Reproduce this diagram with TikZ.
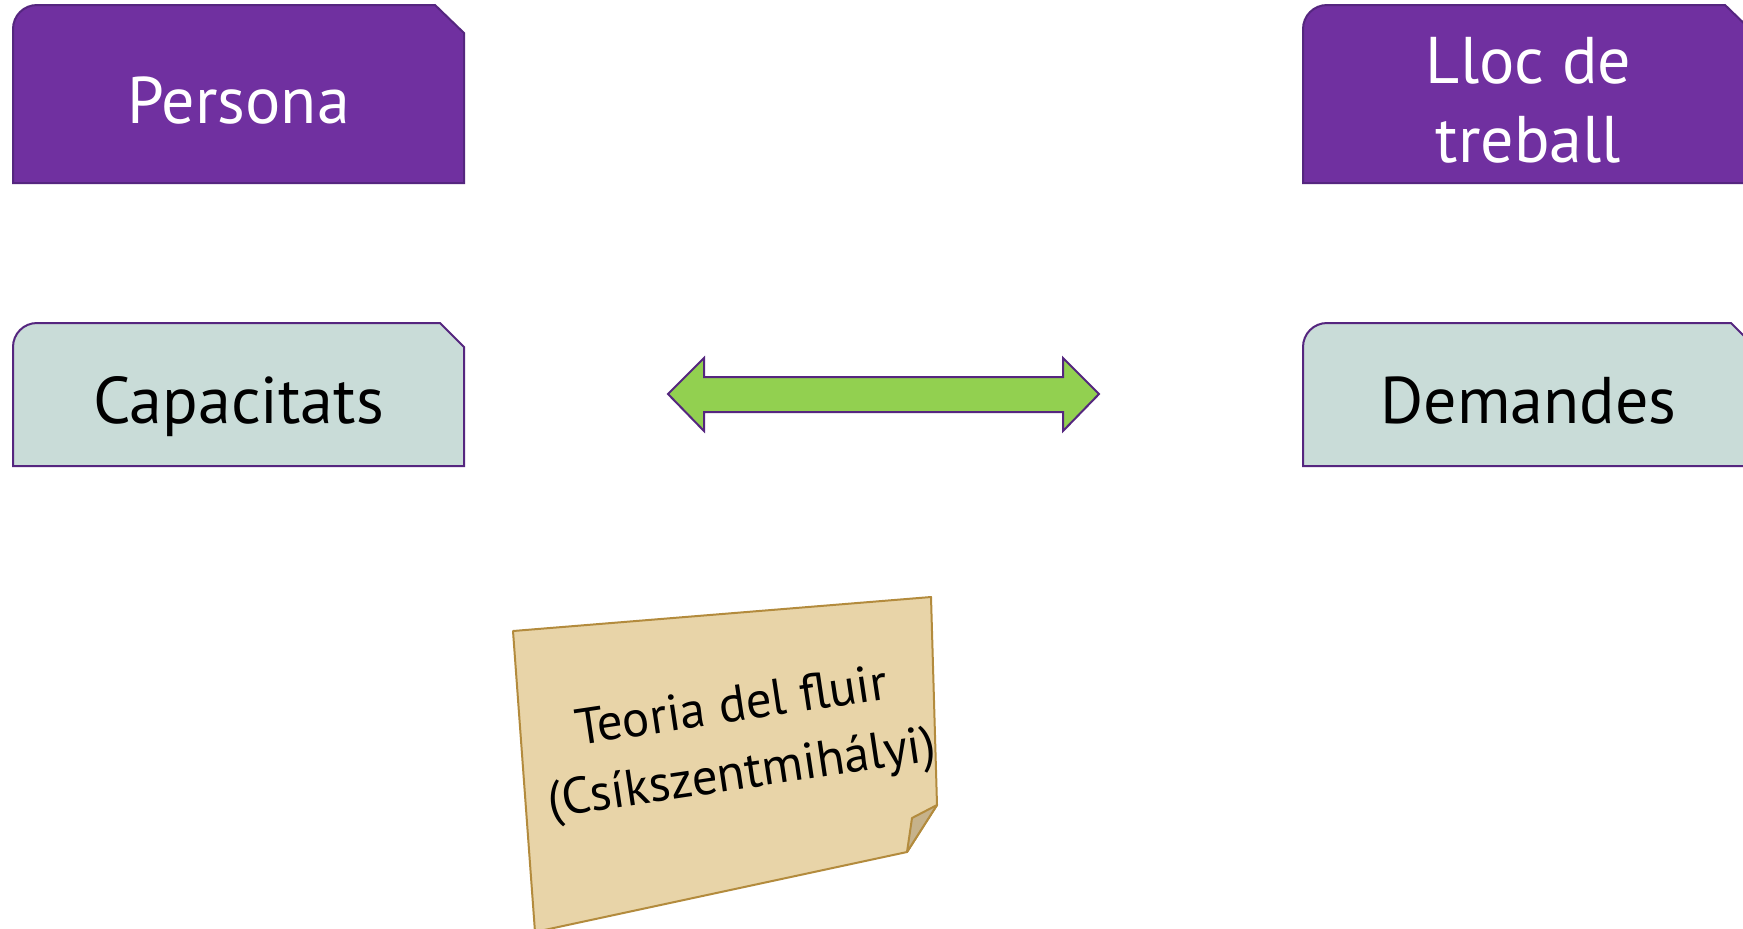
\documentclass[tikz,border=0pt]{standalone}
\usepackage{fontspec}
\setmainfont{PT Sans}
\definecolor{purp}{HTML}{7030A0}
\definecolor{purpline}{HTML}{55267F}
\definecolor{lightbox}{HTML}{C9DCD8}
\definecolor{arrowgreen}{HTML}{92D050}
\definecolor{notefill}{HTML}{E8D4A8}
\definecolor{noteline}{HTML}{B38B3D}
\definecolor{notefold}{HTML}{C6B28B}
\tikzset{
  boxline/.style={draw=purpline, line width=1pt},
  darkbox/.style={boxline, fill=purp},
  lightbx/.style={boxline, fill=lightbox},
  boxtext/.style={font=\fontsize{33}{39.5}\selectfont, align=center, inner sep=0pt},
  notetext/.style={font=\fontsize{25.5}{34}\selectfont, align=center, inner sep=0pt, rotate=8.5},
}
\begin{document}
\begin{tikzpicture}[x=0.5pt, y=-0.5pt]
\useasboundingbox (0,0) rectangle (1743,928);
\clip (0,0) rectangle (1743,928);
\fill[white] (0,0) rectangle (1743,928);
% Persona
\path[darkbox] (13,183) -- (13,29) .. controls (13,15.7) and (23.7,5) .. (37,5) -- (435,5) -- (464,33) -- (464,183) -- cycle;
\node[boxtext, text=white, anchor=base] (persona) at (238.5,123) {Persona};
% Lloc de treball
\path[darkbox] (1303,183) -- (1303,29) .. controls (1303,15.7) and (1313.7,5) .. (1327,5) -- (1725,5) -- (1754,33) -- (1754,183) -- cycle;
\node[boxtext, text=white] (lloc) at (1528.5,100) {Lloc de\\treball};
% Capacitats
\path[lightbx] (13,466) -- (13,347) .. controls (13,333.7) and (23.7,323) .. (37,323) -- (440,323) -- (464,347) -- (464,466) -- cycle;
\node[boxtext, text=black, anchor=base] (cap) at (238.5,423) {Capacitats};
% Demandes
\path[lightbx] (1303,466) -- (1303,347) .. controls (1303,333.7) and (1313.7,323) .. (1327,323) -- (1731,323) -- (1755,347) -- (1755,466) -- cycle;
\node[boxtext, text=black, anchor=base] (dem) at (1528.5,423) {Demandes};
% double arrow
\path[draw=purpline, line width=1pt, fill=arrowgreen, line join=miter]
  (668,394) -- (704,358) -- (704,377) -- (1063,377) -- (1063,358) -- (1099,394)
  -- (1063,431) -- (1063,412) -- (704,412) -- (704,431) -- cycle;
% sticky note
\path[draw=noteline, line width=1pt, fill=notefill, line join=round]
  (513,631) -- (931,597) -- (937,805) -- (907,852) -- (535,932) -- cycle;
\path[draw=noteline, line width=1pt, fill=notefold, line join=round]
  (937,805) -- (912,818) -- (907,852) -- cycle;
\node[notetext] (note) at (737,743) {Teoria del fluir\\(Csíkszentmihályi)};
\end{tikzpicture}
\end{document}
